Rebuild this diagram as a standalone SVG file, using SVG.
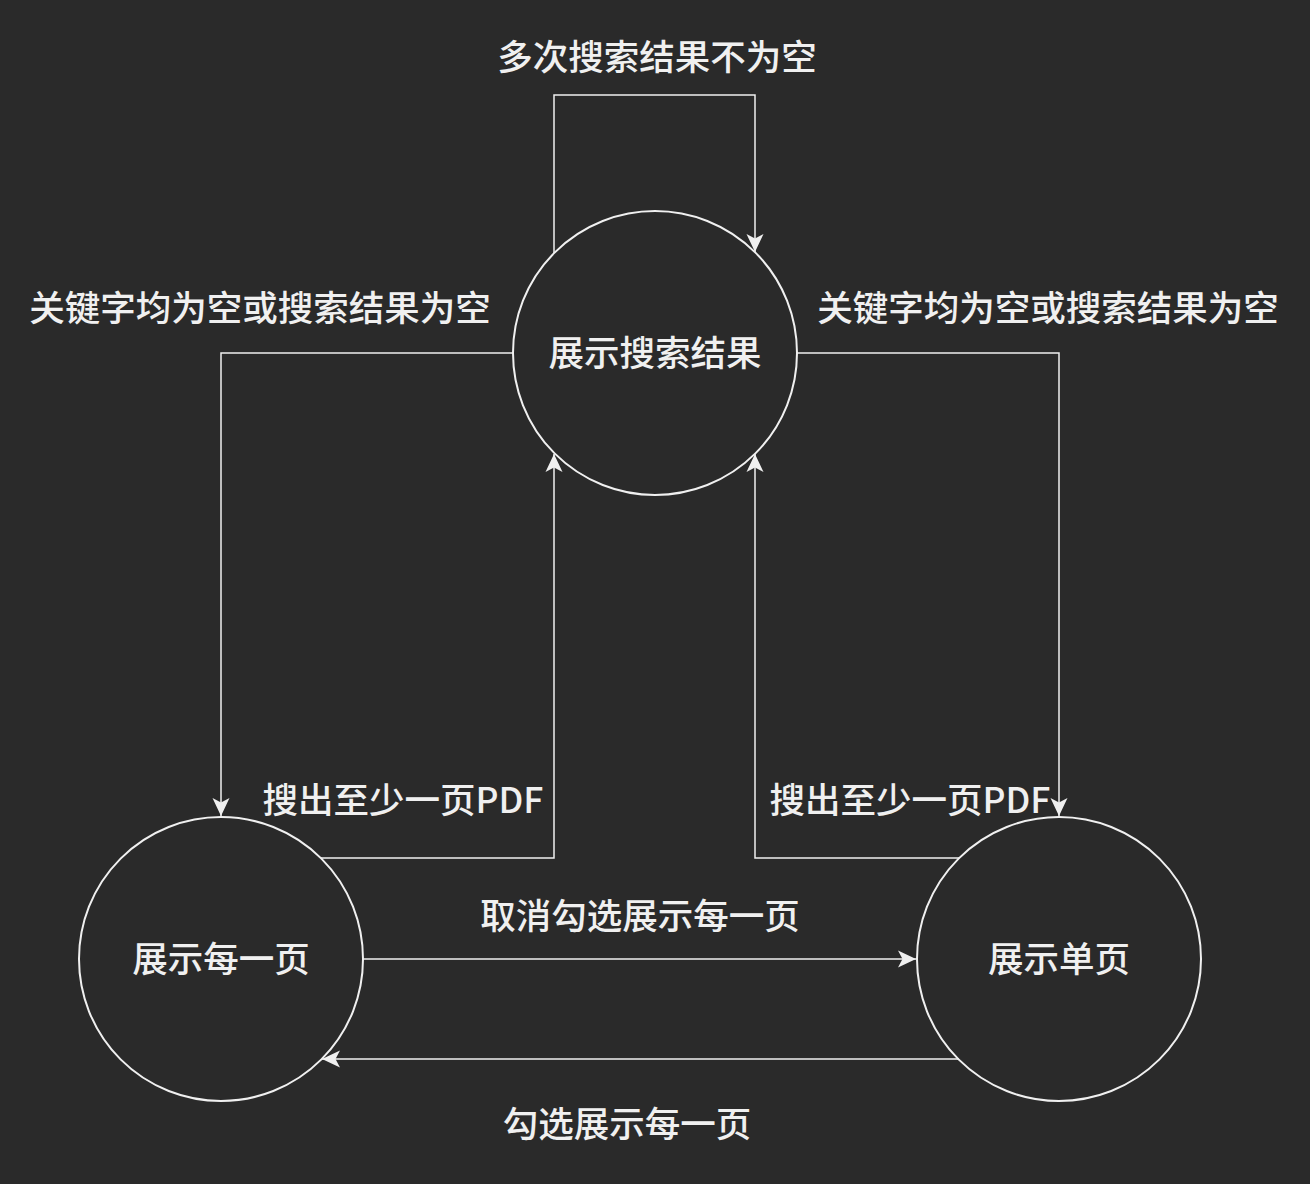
<svg xmlns="http://www.w3.org/2000/svg" width="1310" height="1184" viewBox="0 0 1310 1184">
<style>
.node{fill:none;stroke:#f0f0f0;stroke-width:2}
.edge{fill:none;stroke:#f0f0f0;stroke-width:1.5;marker-end:url(#arr)}
text{font-family:"Noto Sans CJK SC","Liberation Sans",sans-serif;font-size:35.5px;font-weight:500;fill:#f0f0f0;text-anchor:middle;dominant-baseline:central}
</style>
<defs>
<marker id="arr" markerUnits="userSpaceOnUse" viewBox="-20 -10 22 20" markerWidth="22" markerHeight="20" refX="0" refY="0" orient="auto">
<path d="M0,0 L-18,-8.5 L-13.5,0 L-18,8.5 Z" fill="#f0f0f0"/>
</marker>
</defs>
<rect width="1310" height="1184" fill="#2a2a2a"/>
<g id="connectors">
<path class="edge" d="M554,253 V95 H755 V252"/>
<path class="edge" d="M513,353 H221 V816"/>
<path class="edge" d="M797,353 H1059 V816"/>
<path class="edge" d="M321,858 H554 V454"/>
<path class="edge" d="M959,858 H755 V454"/>
<path class="edge" d="M363,959 H916"/>
<path class="edge" d="M959,1059 H322"/>
<text x="657" y="54">多次搜索结果不为空</text>
<text x="260" y="305">关键字均为空或搜索结果为空</text>
<text x="1048" y="305">关键字均为空或搜索结果为空</text>
<text x="403" y="797">搜出至少一页PDF</text>
<text x="910" y="797">搜出至少一页PDF</text>
<text x="640" y="913">取消勾选展示每一页</text>
<text x="627" y="1121">勾选展示每一页</text>
</g>
<g id="node-search">
<circle class="node" cx="655" cy="353" r="142"/>
<text x="655" y="350">展示搜索结果</text>
</g>
<g id="node-every">
<circle class="node" cx="221" cy="959" r="142"/>
<text x="221" y="956">展示每一页</text>
</g>
<g id="node-single">
<circle class="node" cx="1059" cy="959" r="142"/>
<text x="1059" y="956">展示单页</text>
</g>
</svg>
